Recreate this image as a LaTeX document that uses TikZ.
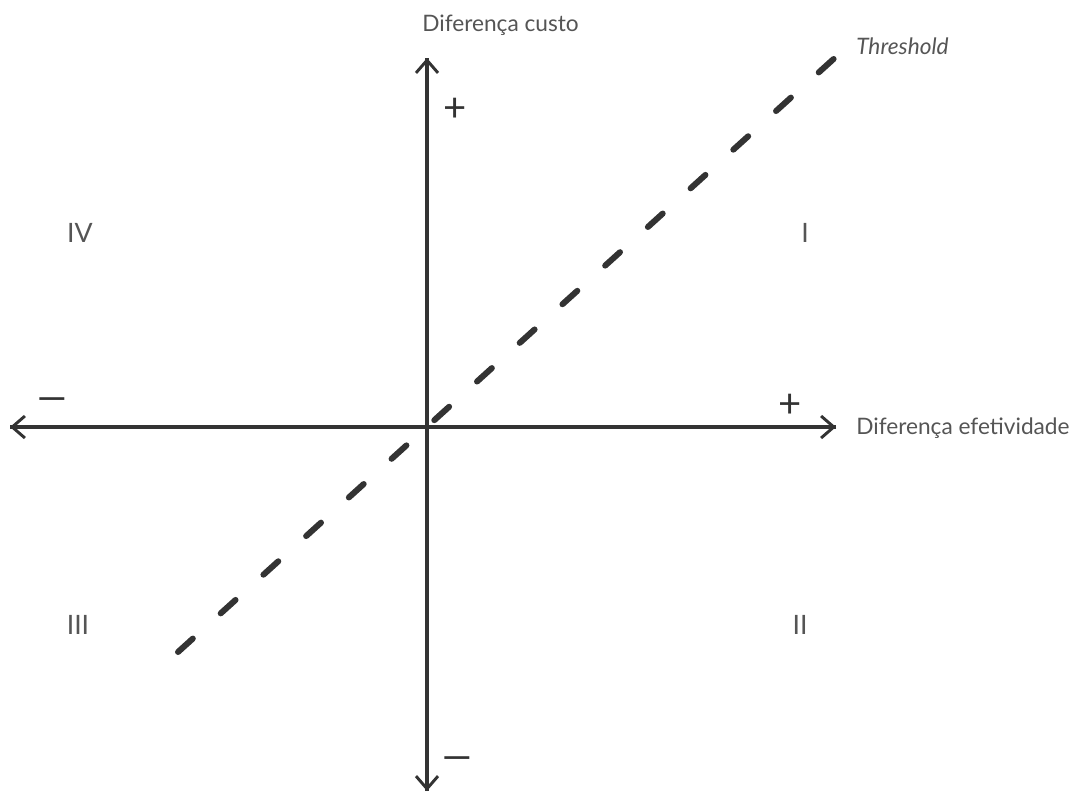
\documentclass[tikz,border=0pt]{standalone}
\usepackage{fontspec}
\setmainfont{Lato}
\usetikzlibrary{arrows.meta}
\definecolor{axis}{HTML}{333333}
\definecolor{txt}{HTML}{555555}
\begin{document}
\begin{tikzpicture}[x=0.75pt,y=-0.75pt,
  axisline/.style={draw=axis,line width=2.4pt,-{Straight Barb[length=9.5pt,width=16.5pt,line width=2.2pt]}},
  thresh/.style={draw=axis,line width=4.5pt,line cap=round,dash pattern=on 15pt off 28.2pt},
  lbl/.style={text=txt,font=\fontsize{17}{19}\selectfont,inner sep=0pt},
  sign/.style={text=axis,font=\fontsize{30}{32}\selectfont,inner sep=0pt},
  quad/.style={text=txt,font=\fontsize{20}{22}\selectfont,inner sep=0pt}]
\useasboundingbox (0,0) rectangle (1076,794);
\coordinate (O) at (427,427);
\coordinate (top) at (427,58);
\coordinate (bot) at (427,791);
\coordinate (left) at (10,427);
\coordinate (right) at (836,427);
\coordinate (t0) at (178,652);
\coordinate (t1) at (838,55);
\draw[axisline] (bot) -- (top);
\draw[axisline] (top) -- (bot);
\draw[axisline] (right) -- (left);
\draw[axisline] (left) -- (right);
\draw[thresh] (t0) -- (t1);
\node[lbl,anchor=west] (ylab) at (422,25) {Diferença custo};
\node[lbl,anchor=west] (xlab) at (856,428) {Diferença efetividade};
\node[lbl,anchor=west,font=\fontsize{17}{19}\selectfont\itshape] (th) at (856,46) {Threshold};
\node[sign] (p1) at (455,110) {+};
\node[sign] (p2) at (790,406) {+};
\node[sign] (m1) at (52,405) {\scalebox{1.45}[1]{−}};
\node[sign] (m2) at (457,764) {\scalebox{1.45}[1]{−}};
\node[quad] (q4) at (80,233) {IV};
\node[quad] (q1) at (805,233) {I};
\node[quad] (q3) at (78,625) {III};
\node[quad] (q2) at (800,625) {II};
\end{tikzpicture}
\end{document}
